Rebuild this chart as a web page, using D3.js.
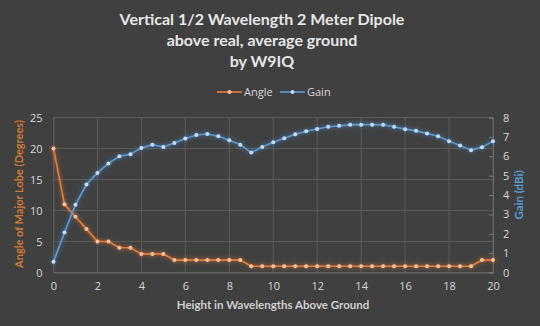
<!DOCTYPE html>
<html><head><meta charset="utf-8">
<script src="https://cdn.jsdelivr.net/npm/d3@7"></script>
<style>
html,body{margin:0;padding:0;background:#404040;}
svg{display:block;}
text{font-family:"Open Sans","Lato",sans-serif;}
</style></head>
<body>
<script>
const heights = d3.range(0, 20.01, 0.5);
const angle = [20,11,9,7,5,5,4,4,3,3,3,2,2,2,2,2,2,2,1,1,1,1,1,1,1,1,1,1,1,1,1,1,1,1,1,1,1,1,1,2,2];
const gain = [0.55,2.06,3.5,4.54,5.14,5.63,6.0,6.1,6.43,6.6,6.48,6.69,6.92,7.1,7.15,7.03,6.83,6.6,6.19,6.48,6.72,6.93,7.14,7.29,7.41,7.52,7.57,7.62,7.63,7.63,7.62,7.52,7.4,7.31,7.17,7.03,6.78,6.55,6.31,6.47,6.78];
const xTicks = [0,2,4,6,8,10,12,14,16,18,20];
const leftTicks = [0,5,10,15,20,25];
const rightTicks = [0,1,2,3,4,5,6,7,8];
const titleLines = ["Vertical 1/2 Wavelength 2 Meter Dipole","above real, average ground","by W9IQ"];

const W=540,H=326;
const m={l:53.5,r:47,t:117.5,b:53.5};
const svg=d3.select("body").append("svg").attr("width",W).attr("height",H);
svg.append("rect").attr("width",W).attr("height",H).attr("fill","#404040");

const defs=svg.append("defs");
function glow(id,color){
  const f=defs.append("filter").attr("id",id).attr("x","-20%").attr("y","-20%").attr("width","140%").attr("height","140%");
  f.append("feGaussianBlur").attr("in","SourceAlpha").attr("stdDeviation",2.2).attr("result","b");
  f.append("feFlood").attr("flood-color",color).attr("flood-opacity",0.75);
  f.append("feComposite").attr("in2","b").attr("operator","in").attr("result","g");
  const mg=f.append("feMerge");
  mg.append("feMergeNode").attr("in","g");
  mg.append("feMergeNode").attr("in","SourceGraphic");
}
glow("go","#ed7d31");
glow("gb","#4a90d9");

const x=d3.scaleLinear().domain([0,20]).range([m.l,W-m.r]);
const yL=d3.scaleLinear().domain([0,25]).range([H-m.b,m.t]);
const yR=d3.scaleLinear().domain([0,8]).range([H-m.b,m.t]);

// gridlines
const grid="#5a5a5a";
svg.append("g").selectAll("line").data(leftTicks).join("line")
  .attr("x1",m.l).attr("x2",W-m.r).attr("y1",d=>yL(d)).attr("y2",d=>yL(d))
  .attr("stroke",grid).attr("stroke-width",1);
svg.append("g").selectAll("line").data(xTicks).join("line")
  .attr("x1",d=>x(d)).attr("x2",d=>x(d)).attr("y1",m.t).attr("y2",H-m.b)
  .attr("stroke",grid).attr("stroke-width",1);

// axes
const txt="#d9d9d9";
const gx=svg.append("g").attr("transform",`translate(0,${H-m.b})`)
  .call(d3.axisBottom(x).tickValues(xTicks).tickSize(0).tickPadding(10));
const gl=svg.append("g").attr("transform",`translate(${m.l},0)`)
  .call(d3.axisLeft(yL).tickValues(leftTicks).tickSize(0).tickPadding(11));
const gr=svg.append("g").attr("transform",`translate(${W-m.r},0)`)
  .call(d3.axisRight(yR).tickValues(rightTicks).tickSize(-4).tickPadding(10));
[gx,gl,gr].forEach(g=>{
  g.selectAll("text").attr("fill",txt).style("font-size","11px").style("font-family","'Open Sans',sans-serif");
  g.select(".domain").attr("stroke","#6a6a6a");
  g.selectAll(".tick line").attr("stroke","#7a7a7a");
});
gl.select(".domain").attr("stroke",grid);

// lines
const lineA=d3.line().x((d,i)=>x(heights[i])).y(d=>yL(d));
const lineG=d3.line().x((d,i)=>x(heights[i])).y(d=>yR(d));
const ga=svg.append("g").attr("filter","url(#go)");
ga.append("path").datum(angle).attr("d",lineA).attr("fill","none").attr("stroke","#ed7d31").attr("stroke-width",1.6);
ga.selectAll("circle").data(angle).join("circle").attr("cx",(d,i)=>x(heights[i])).attr("cy",d=>yL(d)).attr("r",2).attr("fill","#f7c3a0");
const gg=svg.append("g").attr("filter","url(#gb)");
gg.append("path").datum(gain).attr("d",lineG).attr("fill","none").attr("stroke","#5b9bd5").attr("stroke-width",1.6);
gg.selectAll("circle").data(gain).join("circle").attr("cx",(d,i)=>x(heights[i])).attr("cy",d=>yR(d)).attr("r",2).attr("fill","#c5dcf2");

// title
svg.append("g").selectAll("text").data(titleLines).join("text")
  .attr("x",262).attr("y",(d,i)=>25+i*21).attr("text-anchor","middle")
  .attr("fill","#e6e6e6").style("font-family","Lato,sans-serif").style("font-size","16px").style("font-weight","bold").text(d=>d);

// legend
const leg=[{name:"Angle",c:"#ed7d31",f:"#f7c3a0",x0:217},{name:"Gain",c:"#5b9bd5",f:"#c5dcf2",x0:280}];
const lg=svg.append("g").selectAll("g").data(leg).join("g").attr("transform",d=>`translate(${d.x0},92)`);
lg.append("line").attr("x1",0).attr("x2",25).attr("stroke",d=>d.c).attr("stroke-width",1.6);
lg.append("circle").attr("cx",12.5).attr("r",2).attr("fill",d=>d.f);
lg.append("text").attr("x",27).attr("dy","0.35em").attr("fill",txt).style("font-size","11px").text(d=>d.name);

// axis titles
svg.append("text").attr("transform",`translate(23,194) rotate(-90)`).attr("text-anchor","middle")
  .attr("fill","#d07a35").style("font-family","Lato,sans-serif").style("font-size","11px").style("font-weight","bold").text("Angle of Major Lobe (Degrees)");
svg.append("text").attr("transform",`translate(523,195) rotate(-90)`).attr("text-anchor","middle")
  .attr("fill","#5b9bd5").style("font-family","Lato,sans-serif").style("font-size","11.5px").style("font-weight","bold").text("Gain (dBi)");
svg.append("text").attr("x",273).attr("y",309).attr("text-anchor","middle")
  .attr("fill","#cfcfcf").style("font-family","Lato,sans-serif").style("font-size","11.5px").style("font-weight","bold").text("Height in Wavelengths Above Ground");
</script>
</body></html>
